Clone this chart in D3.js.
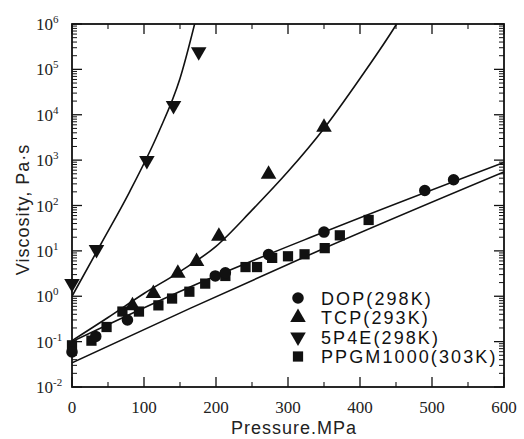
<!DOCTYPE html>
<html lang="en">
<head>
<meta charset="UTF-8">
<title>Viscosity vs pressure</title>
<script src="https://d3js.org/d3.v7.min.js"></script>
<style>
  body { margin: 0; background: #fff; }
  svg { display: block; }
  .tick-label { font-family: 'Liberation Serif', 'DejaVu Serif', serif; font-size: 17px; fill: #222; }
  .axis-title { font-family: 'Liberation Sans', Arial, sans-serif; font-size: 18px; fill: #222; letter-spacing: 1px; }
  .legend-text { font-family: 'Liberation Sans', Arial, sans-serif; font-size: 18px; fill: #111; letter-spacing: 2.1px; }
</style>
</head>
<body>
<div id="chart"></div>
<script>
// ---- data ----
const pressureTicks = [0, 100, 200, 300, 400, 500, 600];
const viscosityExponents = [-2, -1, 0, 1, 2, 3, 4, 5, 6];

// DOP (298K) - circles
const dopP   = [0, 33, 77, 199, 213, 273, 350, 490, 530];
const dopEta = [0.059, 0.13, 0.30, 2.8, 3.3, 8.3, 26, 214, 370];
// TCP (293K) - up triangles
const tcpP   = [84, 113, 147, 173, 204, 273, 350];
const tcpEta = [0.62, 1.15, 3.2, 5.8, 21, 490, 5300];
// 5P4E (298K) - down triangles
const p4eP   = [0, 34, 104, 141, 176];
const p4eEta = [1.9, 10.7, 980, 16000, 245000];
// PPGM1000 (303K) - squares
const ppgmP   = [0, 27, 48, 70, 93, 120, 139, 163, 185, 213, 241, 257, 278, 300, 323, 351, 372, 412];
const ppgmEta = [0.083, 0.105, 0.21, 0.46, 0.46, 0.63, 0.89, 1.26, 1.9, 2.8, 4.4, 4.4, 7.0, 7.6, 8.4, 11.5, 22, 48];

// fitted curves as drawn in the figure
const dopFitP   = [0, 164, 350, 600];
const dopFitEta = [0.10, 1.6, 26, 890];
const ppgmFitP   = [0, 164, 345, 600];
const ppgmFitEta = [0.034, 0.54, 10.5, 550];
const tcpFitP   = [0, 50, 100, 150, 200, 250, 300, 350, 400, 450, 470];
const tcpFitEta = [0.105, 0.34, 1.15, 3.5, 12.6, 79, 560, 5000, 63000, 950000, 3200000];
const p4eFitP   = [0, 40, 80, 120, 150, 175];
const p4eFitEta = [1, 14, 200, 4000, 63000, 2000000];

const legendNames = ["DOP(298K)", "TCP(293K)", "5P4E(298K)", "PPGM1000(303K)"];
const legendShapes = ["circle", "up", "down", "square"];

// ---- layout ----
const W = 524, H = 439;
const L = 72, R = 504, T = 24, B = 387;

const svg = d3.select("#chart").append("svg")
  .attr("width", W).attr("height", H);

const x = d3.scaleLinear().domain([0, 600]).range([L, R]);
const y = d3.scaleLog().domain([1e-2, 1e6]).range([B, T]);

svg.append("defs").append("clipPath").attr("id", "plot-clip")
  .append("rect").attr("x", L).attr("y", T).attr("width", R - L).attr("height", B - T);

// ---- axes: ticks inward on all four sides ----
const minorX = d3.range(50, 600, 100);
const frame = svg.append("g").attr("stroke", "#111").attr("fill", "none");

function xTicks(yPos, dir) {
  pressureTicks.forEach(v => frame.append("line")
    .attr("x1", x(v)).attr("x2", x(v)).attr("y1", yPos).attr("y2", yPos + dir * 10)
    .attr("stroke-width", 1.3));
  minorX.forEach(v => frame.append("line")
    .attr("x1", x(v)).attr("x2", x(v)).attr("y1", yPos).attr("y2", yPos + dir * 5)
    .attr("stroke-width", 1.1));
}
xTicks(B, -1);
xTicks(T, 1);

function yTicks(xPos, dir) {
  viscosityExponents.forEach(e => {
    const v = Math.pow(10, e);
    frame.append("line").attr("x1", xPos).attr("x2", xPos + dir * 10)
      .attr("y1", y(v)).attr("y2", y(v)).attr("stroke-width", 1.3);
    if (e < 6) {
      for (let k = 2; k <= 9; k++) {
        frame.append("line").attr("x1", xPos).attr("x2", xPos + dir * 5)
          .attr("y1", y(k * v)).attr("y2", y(k * v)).attr("stroke-width", 1);
      }
    }
  });
}
yTicks(L, 1);
yTicks(R, -1);

frame.append("rect").attr("x", L).attr("y", T).attr("width", R - L).attr("height", B - T)
  .attr("stroke-width", 1.8);

// tick labels
svg.append("g").selectAll("text").data(pressureTicks).join("text")
  .attr("class", "tick-label")
  .attr("x", d => x(d)).attr("y", B + 26)
  .attr("text-anchor", "middle")
  .text(d => d);

const yl = svg.append("g").selectAll("text").data(viscosityExponents).join("text")
  .attr("class", "tick-label")
  .attr("x", 36).attr("y", d => y(Math.pow(10, d)) + 6);
yl.append("tspan").text("10");
yl.append("tspan").attr("dy", -7).attr("font-size", 11).text(d => d);

// axis titles
svg.append("text").attr("class", "axis-title")
  .attr("x", (L + R) / 2 + 6).attr("y", 434)
  .attr("text-anchor", "middle").text("Pressure.MPa");

svg.append("text").attr("class", "axis-title")
  .attr("transform", `translate(29,${(T + B) / 2 + 4}) rotate(-90)`)
  .attr("text-anchor", "middle").text("Viscosity, Pa·s");

// ---- fitted curves ----
const line = d3.line().x(d => x(d[0])).y(d => y(d[1])).curve(d3.curveMonotoneX);
const curves = svg.append("g").attr("clip-path", "url(#plot-clip)")
  .attr("fill", "none").attr("stroke", "#111").attr("stroke-width", 1.6);
[[dopFitP, dopFitEta], [ppgmFitP, ppgmFitEta], [tcpFitP, tcpFitEta], [p4eFitP, p4eFitEta]]
  .forEach(([ps, es]) => curves.append("path").attr("d", line(d3.zip(ps, es))));

// ---- markers ----
const sym = {
  circle: d3.symbol().type(d3.symbolCircle).size(105),
  square: d3.symbol().type(d3.symbolSquare).size(105),
  up: d3.symbol().type(d3.symbolTriangle).size(105),
  down: d3.symbol().type(d3.symbolTriangle).size(105)
};
function drawMarkers(ps, es, shape) {
  svg.append("g").selectAll("path").data(d3.zip(ps, es)).join("path")
    .attr("d", sym[shape]())
    .attr("transform", d => `translate(${x(d[0])},${y(d[1])})` + (shape === "down" ? " rotate(180)" : ""))
    .attr("fill", "#111");
}
drawMarkers(ppgmP, ppgmEta, "square");
drawMarkers(dopP, dopEta, "circle");
drawMarkers(tcpP, tcpEta, "up");
drawMarkers(p4eP, p4eEta, "down");

// ---- legend ----
const lg = svg.append("g").attr("transform", "translate(298,298)");
legendNames.forEach((name, i) => {
  const gy = i * 19.5;
  lg.append("path").attr("d", sym[legendShapes[i]]())
    .attr("transform", `translate(0,${gy})` + (legendShapes[i] === "down" ? " rotate(180)" : ""))
    .attr("fill", "#111");
  lg.append("text").attr("class", "legend-text")
    .attr("x", 23).attr("y", gy + 6.5).text(name);
});
</script>
</body>
</html>
